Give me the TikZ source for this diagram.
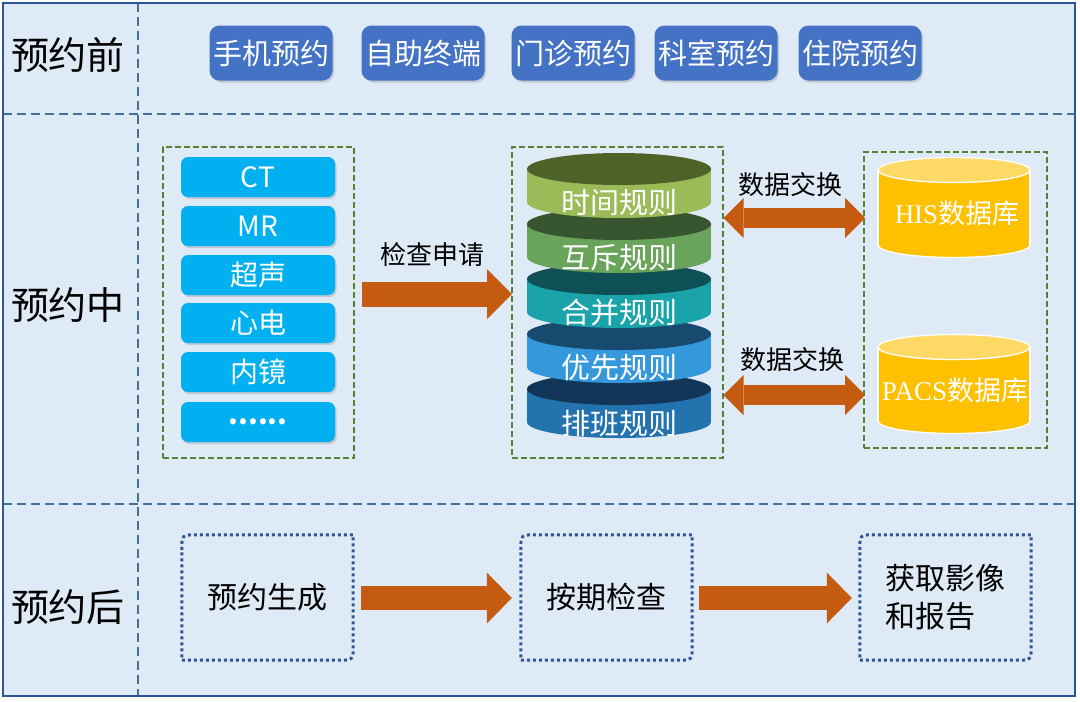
\documentclass[tikz,border=0pt]{standalone}
\usepackage{fontspec}
\setmainfont{Noto Sans CJK SC}
\newfontfamily\latinserif{Liberation Serif}
\usetikzlibrary{shadows,arrows.meta,calc}
\definecolor{bgc}{HTML}{DEEAF6}
\definecolor{framec}{HTML}{2F5597}
\definecolor{dashc}{HTML}{41719C}
\definecolor{btnc}{HTML}{4472C4}
\definecolor{cyanc}{HTML}{00B0F0}
\definecolor{grnc}{HTML}{548235}
\definecolor{arrc}{HTML}{C55A11}
\definecolor{goldc}{HTML}{FFC000}
\definecolor{goldtop}{HTML}{FFD966}
\definecolor{ruleAb}{HTML}{9BBB59}\definecolor{ruleAt}{HTML}{4F6228}
\definecolor{ruleBb}{HTML}{6AA35A}\definecolor{ruleBt}{HTML}{375630}
\definecolor{ruleCb}{HTML}{1AA3A8}\definecolor{ruleCt}{HTML}{0F5056}
\definecolor{ruleDb}{HTML}{3498DB}\definecolor{ruleDt}{HTML}{184A70}
\definecolor{ruleEb}{HTML}{2373AE}\definecolor{ruleEt}{HTML}{123658}
\newcommand\rulelayer[5]{%
  \fill[#2] (619,#1+33) ellipse[x radius=92, y radius=16];
  \fill[#2] (527,#1) rectangle (711,#1+33);
  \fill[#3] (619,#1) ellipse[x radius=92, y radius=16];
  \node[ruletext] (#4) at (619,#1+34) {#5};}
\newcommand\dbcyl[2]{% top y, bottom y
  \fill[goldc, draw=white, line width=1.3pt] (954,#2) ellipse[x radius=76, y radius=12.5];
  \fill[goldc] (878,#1) rectangle (1030,#2);
  \draw[white, line width=1.3pt] (878,#1) -- (878,#2) (1030,#1) -- (1030,#2);
  \fill[goldtop, draw=white, line width=1.3pt] (954,#1) ellipse[x radius=76, y radius=12.5];}
\newcommand\dotbox[1]{%
  \draw[dotc] ($(#1.north west)+(0,15)$) .. controls (#1.north west) .. ($(#1.north west)+(15,0)$)
    -- (#1.north east) -- ($(#1.south east)+(0,-15)$) .. controls (#1.south east) .. ($(#1.south east)+(-15,0)$)
    -- (#1.south west) -- cycle;}
\begin{document}
\begin{tikzpicture}[x=1pt,y=-1pt,
  phase/.style={font=\fontsize{38}{44}\selectfont, text=black},
  btnbox/.style={fill=btnc, rounded corners=10pt, minimum width=123pt, minimum height=55pt,
    text=white, font=\fontsize{29}{34}\selectfont, inner sep=0pt,
    drop shadow={shadow xshift=1.5pt, shadow yshift=-2pt, opacity=0.3}},
  item/.style={fill=cyanc, rounded corners=7pt, minimum width=154pt, minimum height=40pt,
    text=white, font=\fontsize{28}{32}\selectfont, inner sep=0pt,
    drop shadow={shadow xshift=1.5pt, shadow yshift=-2pt, opacity=0.3}},
  gbox/.style={draw=grnc, line width=2pt, dash pattern=on 6pt off 3pt, inner sep=0pt},
  ruletext/.style={text=white, font=\fontsize{29}{33}\selectfont},
  dbtext/.style={text=white, font=\fontsize{27}{32}\selectfont},
  lbl/.style={text=black, font=\fontsize{26}{30}\selectfont},
  stepbox/.style={minimum width=171pt, minimum height=125pt, inner sep=0pt,
    text=black, font=\fontsize{30}{38}\selectfont, align=left},
  dotc/.style={draw=framec, line width=3pt, dash pattern=on 3pt off 3pt},
  sep/.style={draw=dashc, line width=1.5pt, dash pattern=on 9pt off 5pt},
  blk/.style={draw=arrc, line width=25pt, -{Triangle[length=25pt, width=50pt, line width=0pt]}},
  dbl/.style={draw=arrc, line width=20pt,
    {Triangle[length=20pt, width=40pt, line width=0pt]}-{Triangle[length=20pt, width=40pt, line width=0pt]}}
]
\useasboundingbox (0,0) rectangle (1080,702);
% frame
\fill[bgc] (3,3) rectangle (1075,696);
\draw[sep] (138,3) -- (138,696);
\draw[sep] (3,114) -- (1075,114);
\draw[sep] (3,504) -- (1075,504);
\draw[framec, line width=1.8pt] (3,3) rectangle (1075,696);
% phase labels
\node[phase] (p1) at (68,55) {预约前};
\node[phase] (p2) at (68,305) {预约中};
\node[phase] (p3) at (68,607) {预约后};
% top buttons
\node[btnbox] (m1) at (271,53) {手机预约};
\node[btnbox] (m2) at (423,53) {自助终端};
\node[btnbox] (m3) at (573,53) {门诊预约};
\node[btnbox] (m4) at (716,53) {科室预约};
\node[btnbox] (m5) at (860,53) {住院预约};
% exam list
\node[gbox, minimum width=191pt, minimum height=311pt] (exams) at (258.5,302.5) {};
\node[item] (ct) at (258,177) {CT};
\node[item] (mr) at (258,226) {MR};
\node[item] (us) at (258,275) {超声};
\node[item] (ecg) at (258,323) {心电};
\node[item] (endo) at (258,372) {内镜};
\node[item] (more) at (258,422) {\bfseries ......};
% rules
\node[gbox, minimum width=211pt, minimum height=311pt] (rules) at (617,302.5) {};
\rulelayer{389}{ruleEb}{ruleEt}{r5}{排班规则}
\rulelayer{334}{ruleDb}{ruleDt}{r4}{优先规则}
\rulelayer{279}{ruleCb}{ruleCt}{r3}{合并规则}
\rulelayer{224}{ruleBb}{ruleBt}{r2}{互斥规则}
\rulelayer{169}{ruleAb}{ruleAt}{r1}{时间规则}
% databases
\node[gbox, minimum width=183pt, minimum height=296pt] (dbs) at (955.5,300) {};
\dbcyl{170}{245}
\node[dbtext] (his) at (957,213) {{\latinserif HIS}数据库};
\dbcyl{347}{421}
\node[dbtext] (pacs) at (955,390) {{\latinserif PACS}数据库};
% arrows middle
\draw[blk] ($(exams.east)+(7,-8.5)$) -- ($(rules.west)+(1.5,-8.5)$);
\node[lbl] (req) at (432,255) {检查申请};
\draw[dbl] ($(rules.east)+(0,-84.5)$) -- ($(dbs.west)+(2,-82)$);
\draw[dbl] ($(rules.east)+(0,92.5)$) -- ($(dbs.west)+(2,95)$);
\node[lbl] (x1) at (790,185) {数据交换};
\node[lbl] (x2) at (792,360) {数据交换};
% bottom row
\node[stepbox] (b1) at (267.5,597.5) {预约生成};
\node[stepbox] (b2) at (606.5,597.5) {按期检查};
\node[stepbox] (b3) at (945.5,597.5) {获取影像\\和报告};
\dotbox{b1}
\dotbox{b2}
\dotbox{b3}
\draw[blk, line width=24pt, -{Triangle[length=25pt, width=51pt, line width=0pt]}] ($(b1.east)+(8,0.5)$) -- ($(b2.west)+(-9,0.5)$);
\draw[blk, line width=24pt, -{Triangle[length=25pt, width=51pt, line width=0pt]}] ($(b2.east)+(7,0.5)$) -- ($(b3.west)+(-8,0.5)$);
\end{tikzpicture}
\end{document}
